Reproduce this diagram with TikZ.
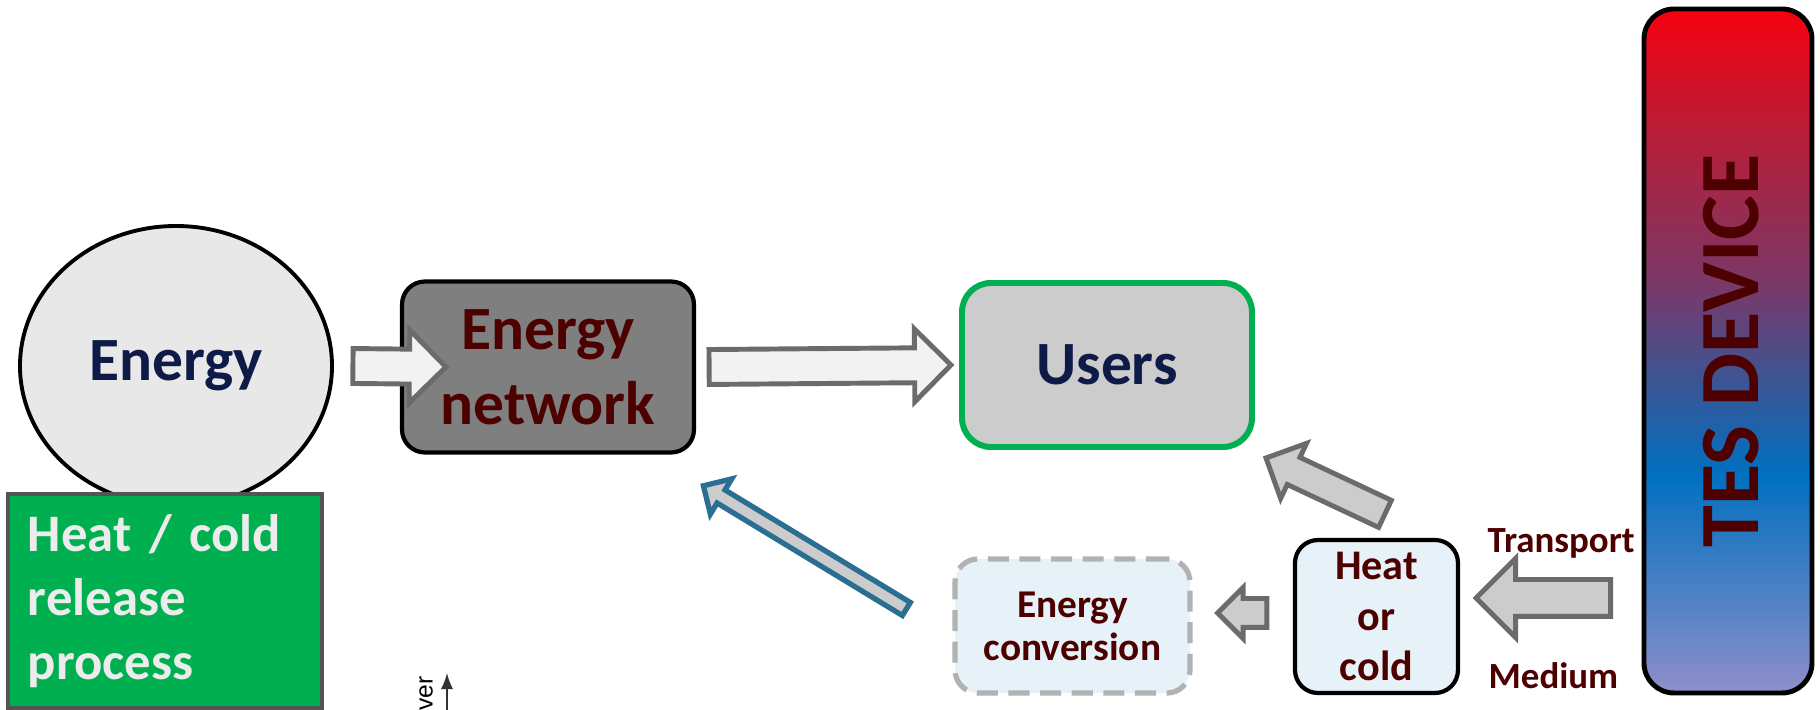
\documentclass[tikz,border=0pt]{standalone}
\usepackage{fontspec}
\setmainfont{Carlito}
\newfontfamily\plotfont{Liberation Sans}
\usetikzlibrary{shapes.geometric,shapes.arrows,calc}

\definecolor{txtred}{HTML}{4D0000}
\definecolor{txtnavy}{HTML}{0E1A47}
\definecolor{ellgray}{HTML}{E8E8E8}
\definecolor{netgray}{HTML}{7F7F7F}
\definecolor{usrgray}{HTML}{CCCCCC}
\definecolor{usrgreen}{HTML}{00B050}
\definecolor{relborder}{HTML}{545454}
\definecolor{reltext}{HTML}{ECECEC}
\definecolor{paleblue}{HTML}{E7F2F8}
\definecolor{dashgray}{HTML}{B2B2B2}
\definecolor{arrline}{HTML}{6B6B6B}
\definecolor{arrwhite}{HTML}{F2F2F2}
\definecolor{arrblue}{HTML}{2A6F91}
\definecolor{tesred}{HTML}{F70010}
\definecolor{tescrimson}{HTML}{B81E38}
\definecolor{tespurple}{HTML}{7A3867}
\definecolor{tesblue}{HTML}{0070C0}
\definecolor{teslav}{HTML}{8F8FCA}

\pgfdeclareverticalshading{tesfade}{100bp}{color(0bp)=(teslav); color(25bp)=(teslav);
  color(41bp)=(tesblue); color(55bp)=(tespurple); color(66bp)=(tescrimson);
  color(75bp)=(tesred); color(100bp)=(tesred)}

% block arrow between two points: [options]{from}{to}
\newcommand\fatarrow[3][]{%
  \path let \p1=(#2), \p2=(#3),
    \n1={atan2(\y2-\y1,\x2-\x1)}, \n2={veclen(\x2-\x1,\y2-\y1)} in
    node[blockarr,#1,rotate=\n1,minimum height=\n2,anchor=tail] at (\p1) {};}

\begin{document}
\begin{tikzpicture}[
    bigtxt/.style={font=\bfseries\fontsize{17.5}{21.3}\selectfont, align=center, inner sep=0pt},
    boxtxt/.style={font=\bfseries\fontsize{12}{14.5}\selectfont, align=center, text=txtred, inner sep=0pt},
    blockarr/.style={single arrow, draw=arrline, fill=usrgray, line width=1.4pt,
      inner xsep=0pt, outer sep=0pt, single arrow tip angle=90},
    lbl/.style={font=\bfseries\fontsize{10.5}{12}\selectfont, text=txtred, anchor=west, inner sep=0pt}
  ]
  \useasboundingbox (0,0) rectangle (18.2,7.1);

  % top row
  \node[bigtxt, ellipse, draw, line width=1.1pt, fill=ellgray, text=txtnavy,
    minimum width=3.12cm, minimum height=2.8cm] (energy) at (1.76,3.44) {Energy};
  \node[bigtxt, draw, line width=1.2pt, fill=netgray, text=txtred, rounded corners=0.23cm,
    minimum width=2.92cm, minimum height=1.71cm] (net) at (5.48,3.43) {Energy\\network};
  \node[bigtxt, draw=usrgreen, line width=1.7pt, fill=usrgray, text=txtnavy, rounded corners=0.29cm,
    minimum width=2.9cm, minimum height=1.64cm] (users) at (11.07,3.45) {Users};

  % left box
  \node[draw=relborder, line width=1.4pt, fill=usrgreen, text=reltext,
    font=\bfseries\fontsize{15}{18.2}\selectfont, align=left, text width=2.74cm,
    inner xsep=0.2cm, minimum height=2.14cm] (release) at (1.65,1.09) {Heat / cold\\release\\process};

  % bottom row
  \node[boxtxt, draw, line width=1.2pt, fill=paleblue, rounded corners=0.23cm,
    minimum width=1.63cm, minimum height=1.53cm] (heat) at (13.765,0.935) {Heat\\or\\cold};
  \node[boxtxt, font=\bfseries\fontsize{11.2}{12.2}\selectfont, draw=dashgray,
    dash pattern=on 6pt off 3pt, line width=1.5pt, fill=paleblue, rounded corners=0.23cm,
    minimum width=2.35cm, minimum height=1.34cm] (conv) at (10.725,0.84) {Energy\\conversion};
  \node[lbl] (transp) at (14.87,1.67) {Transport};
  \node[lbl] (medium) at (14.88,0.34) {Medium};

  % TES column
  \node[shading=tesfade, draw, line width=1.4pt, rounded corners=0.3cm,
    minimum width=1.68cm, minimum height=6.84cm] (tes) at (17.28,3.59) {};
  \node[rotate=90, font=\bfseries\fontsize{24}{28}\selectfont, text=txtred] (teslbl) at (17.31,3.59) {TES DEVICE};

  % arrows
  \fatarrow[fill=arrwhite, inner ysep=1.5mm, single arrow head extend=1.9mm]
    {[xshift=1.9mm]energy.east}{[xshift=4.6mm]net.west}
  \fatarrow[fill=arrwhite, inner ysep=1.5mm, single arrow head extend=1.9mm]
    {[xshift=1.3mm]net.east}{[xshift=-0.8mm]users.west}
  \fatarrow[inner ysep=1.25mm, single arrow head extend=1.55mm]
    {[shift={(0.085,0.24)}]heat.north}{[shift={(0.11,-0.08)}]users.south east}
  \fatarrow[inner ysep=1.2mm, single arrow head extend=1.1mm]
    {[shift={(-0.26,0.035)}]heat.west}{[shift={(0.25,0.13)}]conv.east}
  \fatarrow[inner ysep=1.6mm, single arrow head extend=2.1mm]
    {[shift={(-0.31,-2.47)}]tes.west}{[shift={(0.16,0.185)}]heat.east}
  \fatarrow[draw=arrblue, line width=1.5pt, inner ysep=0.5mm, single arrow head extend=1.3mm]
    {[shift={(-0.46,0.17)}]conv.west}{[shift={(0.07,-0.31)}]net.south east}

  % piece of a plot axis at the bottom
  \node[rotate=90, anchor=east, font=\plotfont\fontsize{7}{8}\selectfont, inner sep=0pt] (powlbl) at (4.26,0.34) {ver};
  \coordinate (axlow) at (4.47,0);
  \coordinate (axtip) at (4.47,0.37);
  \draw[-latex, line width=0.6pt, black!80] (axlow) -- (axtip);
\end{tikzpicture}
\end{document}
